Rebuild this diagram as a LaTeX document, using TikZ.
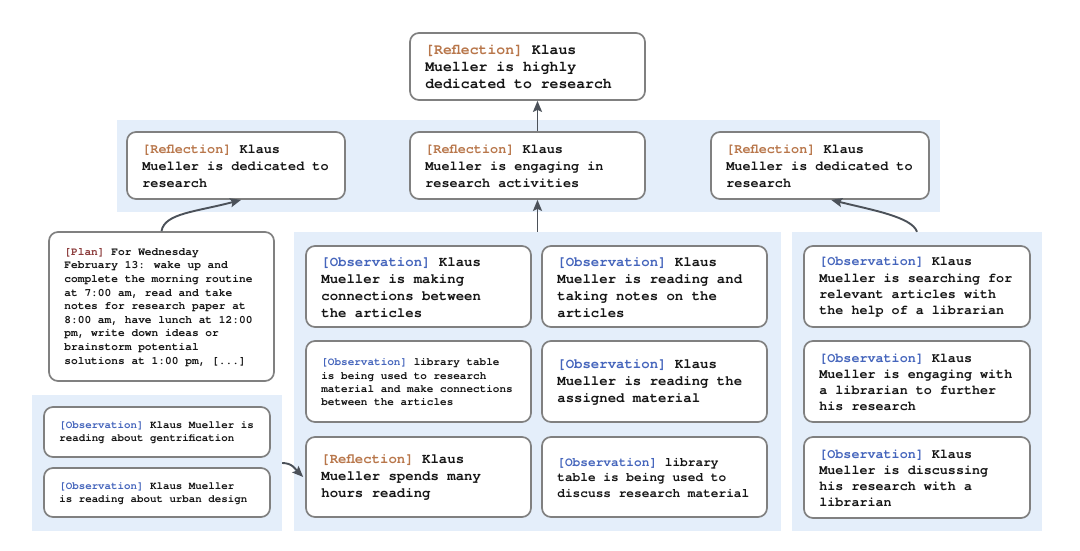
\documentclass[tikz,border=0pt]{standalone}
\usepackage{fontspec}
\newfontfamily\cour{texgyrecursor}[Extension=.otf, UprightFont=*-regular, BoldFont=*-bold]
\usetikzlibrary{arrows.meta}
\definecolor{refl}{HTML}{B8764A}
\definecolor{obs}{HTML}{4565BC}
\definecolor{plan}{HTML}{8B3A3A}
\definecolor{bandc}{HTML}{E4EEFA}
\definecolor{edgec}{HTML}{808080}
\definecolor{arrc}{HTML}{4B5159}
\definecolor{ink}{HTML}{151515}
\newcommand\tR{{\color{refl}[Reflection]}}
\newcommand\tO{{\color{obs}[Observation]}}
\newcommand\tP{{\color{plan}[Plan]}}
\newcommand\fs[2]{\cour\bfseries\fontsize{#1}{#2}\selectfont}
\tikzset{
  memobox/.style={draw=edgec, line width=1.7pt, fill=white, rounded corners=9pt, inner sep=0pt},
  memotext/.style={anchor=west, align=left, inner sep=0pt, text=ink},
  bandbox/.style={fill=bandc, draw=none, inner sep=0pt},
  conn/.style={draw=arrc, line width=1.9pt, -{Stealth[length=11pt,width=9pt,inset=2pt]}}
}
\newcommand\memo[7]{%
  \pgfmathsetmacro\mw{#4-#2}\pgfmathsetmacro\mh{#5-#3}%
  \node[memobox, minimum width=\mw pt, minimum height=\mh pt] (#1) at ({(#2+#4)/2},{(#3+#5)/2}) {};
  \node[memotext, font={#6}] (#1-t) at ([xshift=16pt,yshift=-0.8pt]#1.west) {#7};}
\newcommand\bandrect[5]{%
  \pgfmathsetmacro\mw{#4-#2}\pgfmathsetmacro\mh{#5-#3}%
  \node[bandbox, minimum width=\mw pt, minimum height=\mh pt] (#1) at ({(#2+#4)/2},{(#3+#5)/2}) {};}
\begin{document}
\begin{tikzpicture}[x=1pt,y=-1pt]
\useasboundingbox[fill=white] (0,0) rectangle (1080,551);
% bands
\bandrect{mband}{117}{120}{940}{212}
\bandrect{llband}{32}{395}{282}{531}
\bandrect{cband}{294}{232}{781}{531}
\bandrect{rband}{792}{232}{1042}{531}
% top
\memo{top}{410}{33}{645}{100}{\fs{14.8}{17}}{\tR{} Klaus\\Mueller is highly\\dedicated to research}
% middle row
\memo{mL}{127}{132}{345}{199}{\fs{13.5}{17}}{\tR{} Klaus\\Mueller is dedicated to\\research}
\memo{mC}{410}{132}{645}{199}{\fs{13.5}{17}}{\tR{} Klaus\\Mueller is engaging in\\research activities}
\memo{mR}{711}{132}{929}{199}{\fs{13.5}{17}}{\tR{} Klaus\\Mueller is dedicated to\\research}
% plan
\memo{plan}{49}{232}{274}{381}{\fs{11.2}{13.6}}{\tP{} For Wednesday\\February 13: wake up and\\complete the morning routine\\at 7:00 am, read and take\\notes for research paper at\\8:00 am, have lunch at 12:00\\pm, write down ideas or\\brainstorm potential\\solutions at 1:00 pm, [...]}
% lower left
\memo{ll1}{44}{407}{270}{457}{\fs{10.8}{12.7}}{\tO{} Klaus Mueller is\\reading about gentrification}
\memo{ll2}{44}{468}{270}{517}{\fs{10.8}{12.7}}{\tO{} Klaus Mueller\\is reading about urban design}
% center
\memo{c11}{306}{246}{531}{327}{\fs{14}{17}}{\tO{} Klaus\\Mueller is making\\connections between\\the articles}
\memo{c12}{542}{246}{767}{327}{\fs{14}{17}}{\tO{} Klaus\\Mueller is reading and\\taking notes on the\\articles}
\memo{c21}{306}{341}{531}{422}{\fs{11}{13.3}}{\tO{} library table\\is being used to research\\material and make connections\\between the articles}
\memo{c22}{542}{341}{767}{422}{\fs{14}{17}}{\tO{} Klaus\\Mueller is reading the\\assigned material}
\memo{c31}{306}{437}{531}{517}{\fs{14}{17}}{\tR{} Klaus\\Mueller spends many\\hours reading}
\memo{c32}{542}{437}{767}{517}{\fs{12.8}{15.5}}{\tO{} library\\table is being used to\\discuss research material}
% right
\memo{r1}{804}{246}{1030}{327}{\fs{13.4}{16.3}}{\tO{} Klaus\\Mueller is searching for\\relevant articles with\\the help of a librarian}
\memo{r2}{804}{341}{1030}{422}{\fs{13.4}{16.3}}{\tO{} Klaus\\Mueller is engaging with\\a librarian to further\\his research}
\memo{r3}{804}{437}{1030}{518}{\fs{13.4}{16.3}}{\tO{} Klaus\\Mueller is discussing\\his research with a\\librarian}
% connectors
\draw[conn] (mC.north -| cband.north) -- (top.south -| cband.north);
\draw[conn] (cband.north) -- (mC.south -| cband.north);
\draw[conn] (plan.north) .. controls +(3,-18) and +(-45,12) .. ([xshift=115pt]mL.south west);
\draw[conn] (rband.north) .. controls +(-5,-15) and +(40,10) .. ([xshift=121pt]mR.south west);
\draw[conn] (llband.east) .. controls +(10,0) and +(-8,-8) .. ([xshift=-2pt]c31.west);
\end{tikzpicture}
\end{document}
